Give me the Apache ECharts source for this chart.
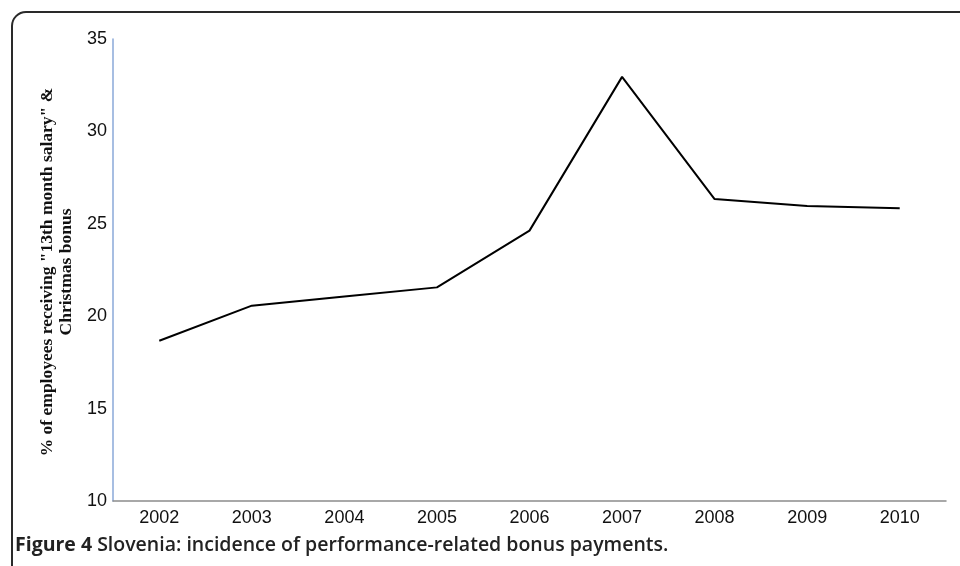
<!DOCTYPE html>
<html>
<head>
<meta charset="utf-8">
<script src="https://cdn.jsdelivr.net/npm/echarts@6/dist/echarts.min.js"></script>
<style>
  html, body { margin: 0; padding: 0; background: #fff; }
  #chart { width: 960px; height: 566px; }
</style>
</head>
<body>
<div id="chart"></div>
<script>
let chart = echarts.init(document.getElementById('chart'));

// data
let years = ['2002', '2003', '2004', '2005', '2006', '2007', '2008', '2009', '2010'];
let bonus_share = [18.67, 20.57, 21.06, 21.56, 24.63, 32.95, 26.34, 25.96, 25.84];
let y_name = ['% of employees receiving "13th month salary" &', 'Christmas bonus'];
let caption_bold = 'Figure 4';
let caption_rest = ' Slovenia: incidence of performance-related bonus payments.';

let option = {
    animation: false,
    grid: {
        left: 113,
        right: 14,
        top: 39,
        bottom: 65
    },
    xAxis: {
        type: 'category',
        data: years,
        boundaryGap: true,
        axisLine: { lineStyle: { color: '#8c8c8c', width: 1.5 } },
        axisTick: { show: false },
        axisLabel: {
            color: '#111',
            fontFamily: 'Liberation Sans',
            fontSize: 18,
            margin: 8
        }
    },
    yAxis: {
        type: 'value',
        min: 10,
        max: 35,
        interval: 5,
        splitLine: { show: false },
        axisLine: { show: true, lineStyle: { color: '#8aa8d8', width: 1.5 } },
        axisTick: { show: false },
        axisLabel: {
            color: '#111',
            fontFamily: 'Liberation Sans',
            fontSize: 18,
            margin: 6
        }
    },
    series: [
        {
            type: 'line',
            data: bonus_share,
            symbol: 'none',
            lineStyle: { color: '#000', width: 2 }
        }
    ],
    graphic: [
        {
            type: 'rect',
            z: -1,
            shape: { x: 12, y: 12, width: 1000, height: 600, r: 14 },
            style: { fill: 'none', stroke: '#2a2a2a', lineWidth: 2 }
        },
        {
            type: 'text',
            x: 57,
            y: 272,
            rotation: Math.PI / 2,
            style: {
                text: y_name.join('\n'),
                fontFamily: 'Liberation Serif',
                fontWeight: 'bold',
                fontSize: 17.5,
                lineHeight: 19,
                fill: '#111',
                align: 'center',
                verticalAlign: 'middle'
            }
        },
        {
            type: 'text',
            left: 15,
            top: 535,
            style: {
                text: '{b|' + caption_bold + '}{r|' + caption_rest + '}',
                rich: {
                    b: { fontFamily: 'Open Sans', fontWeight: 'bold', fontSize: 19.5, fill: '#222' },
                    r: { fontFamily: 'Open Sans', fontWeight: 600, fontSize: 19.5, fill: '#222' }
                }
            }
        }
    ]
};

chart.setOption(option);
</script>
</body>
</html>
